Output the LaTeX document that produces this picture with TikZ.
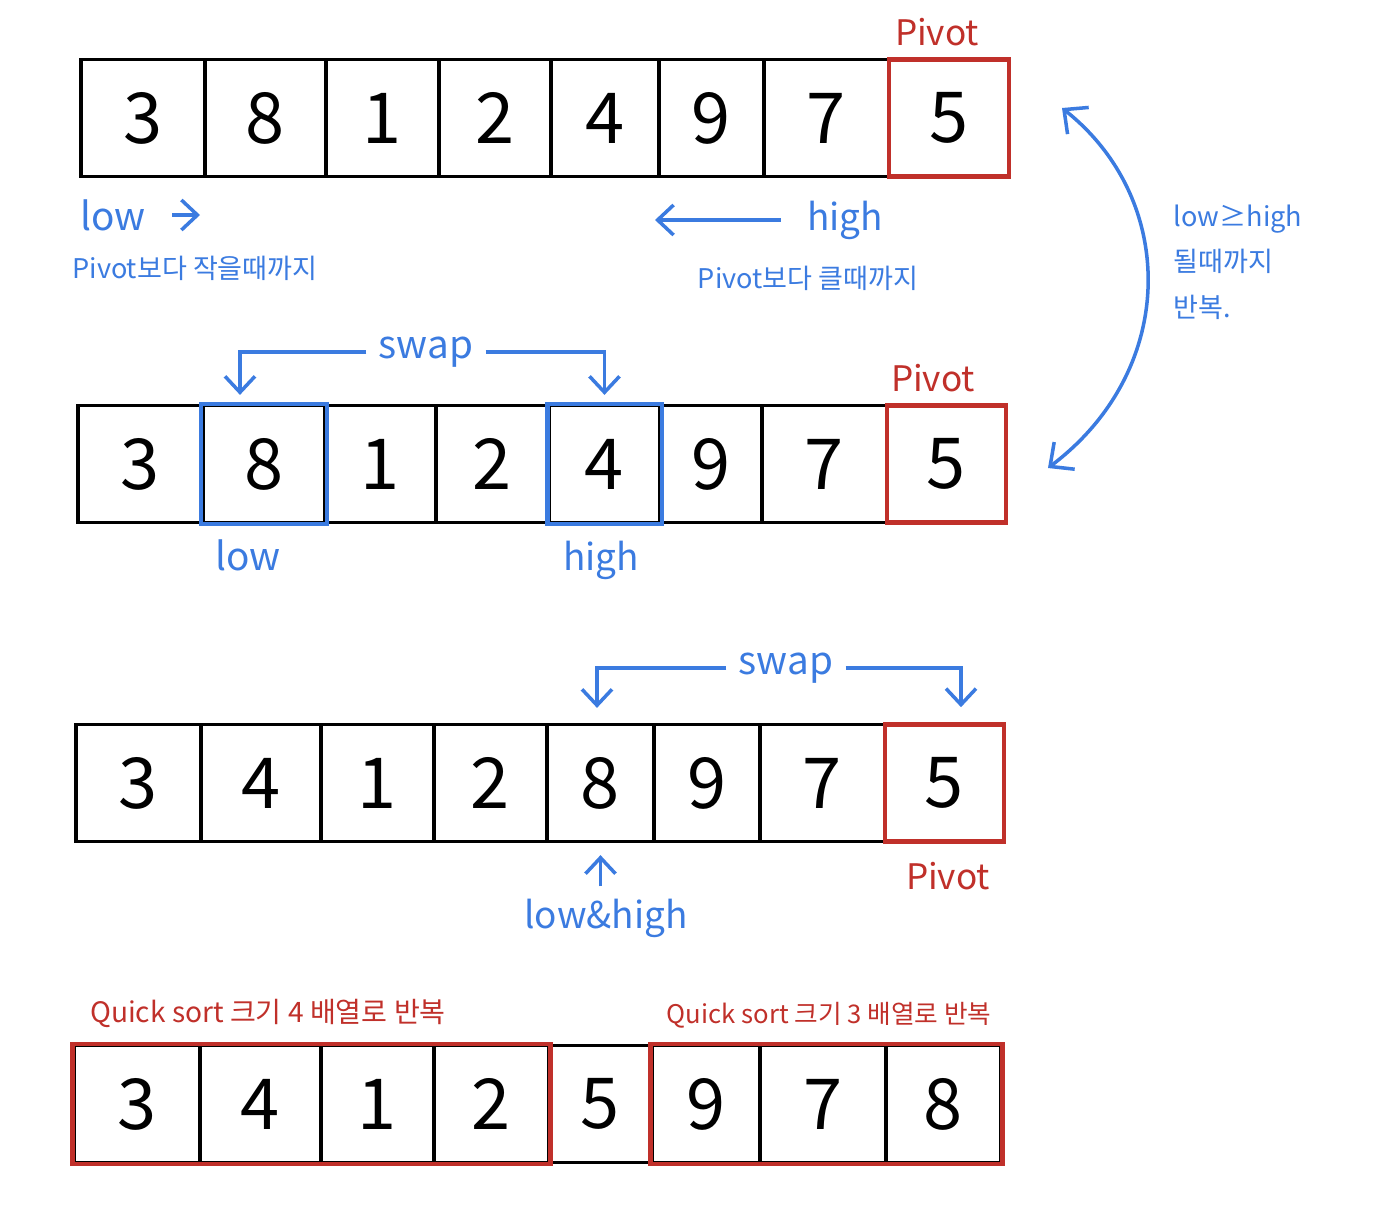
\documentclass[tikz,border=0pt]{standalone}
\usepackage{fontspec}
\setmainfont{Noto Sans CJK KR}
\usetikzlibrary{arrows.meta}
\definecolor{pivred}{HTML}{C0302A}
\definecolor{ptrblue}{HTML}{3B7BE0}

\begin{document}
\begin{tikzpicture}[x=0.01cm, y=-0.01cm,
        cell/.style={draw, line width=0.9pt, minimum height=1.17cm, inner sep=0pt, font=\fontsize{20}{22}\selectfont},
        pivcell/.style={cell, draw=pivred, line width=1.3pt},
        redlbl/.style={text=pivred, font=\fontsize{10}{12}\selectfont},
        bluelbl/.style={text=ptrblue, font=\fontsize{11}{13}\selectfont},
        note/.style={text=ptrblue, align=left, font=\fontsize{7.7}{13}\selectfont},
        qsnote/.style={text=pivred, font=\fontsize{8}{10}\selectfont},
        ptr/.style={ptrblue, line width=1pt, -{Straight Barb[length=1.6mm, width=3mm]}},
        both/.style={ptr, {Straight Barb[length=1.8mm, width=3.4mm]}-{Straight Barb[length=1.8mm, width=3.4mm]}}]
    \useasboundingbox (0,0) rectangle (1379,1209);

    % row 1: start
    \draw
        (143,  118) node[cell, minimum width=1.24cm](a1){3}
        (265.5,118) node[cell, minimum width=1.21cm](a2){8}
        (382.5,118) node[cell, minimum width=1.13cm](a3){1}
        (495,  118) node[cell, minimum width=1.12cm](a4){2}
        (605,  118) node[cell, minimum width=1.08cm](a5){4}
        (711.5,118) node[cell, minimum width=1.05cm](a6){9}
        (826.5,118) node[cell, minimum width=1.25cm](a7){7}
        (949,  118) node[pivcell, minimum width=1.20cm](a8){5}

        (937,  32) node[redlbl](pivA){Pivot}
        (113, 215) node[bluelbl](lowA){low}
        (195, 268) node[note](ltA){Pivot보다 작을때까지}
        (845, 220) node[bluelbl, font=\fontsize{10.5}{12}\selectfont](highA){high}
        (808, 278) node[note](gtA){Pivot보다 클때까지}
        (1238,262) node[note](rep){low≥high\\될때까지\\반복.}
    ;
    \coordinate (lowtipA) at (200,214);
    \coordinate (hightipA) at (655,216);
    \coordinate (loopT) at (1062,108);
    \coordinate (loopB) at (1048,468);

    % row 2: low and high found
    \draw
        (140.5,464) node[cell, minimum width=1.25cm](b1){3}
        (264,  464) node[cell, minimum width=1.22cm](b2){8}
        (380.5,464) node[cell, minimum width=1.11cm](b3){1}
        (492.5,464) node[cell, minimum width=1.13cm](b4){2}
        (604.5,464) node[cell, minimum width=1.11cm](b5){4}
        (711,  464) node[cell, minimum width=1.02cm](b6){9}
        (824.5,464) node[cell, minimum width=1.25cm](b7){7}
        (946.5,464) node[pivcell, minimum width=1.19cm](b8){5}

        (933, 378) node[redlbl](pivB){Pivot}
        (426, 352) node[bluelbl](swapB){swap}
        (248, 555) node[bluelbl](lowB){low}
        (601, 560) node[bluelbl, font=\fontsize{10.5}{12}\selectfont](highB){high}
    ;

    % row 3: swapped, low and high meet
    \draw
        (138.5,783) node[cell, minimum width=1.25cm](c1){3}
        (261,  783) node[cell, minimum width=1.20cm](c2){4}
        (377.5,783) node[cell, minimum width=1.13cm](c3){1}
        (490.5,783) node[cell, minimum width=1.13cm](c4){2}
        (600.5,783) node[cell, minimum width=1.07cm](c5){8}
        (707,  783) node[cell, minimum width=1.06cm](c6){9}
        (822.5,783) node[cell, minimum width=1.25cm](c7){7}
        (944.5,783) node[pivcell, minimum width=1.19cm](c8){5}

        (786, 668) node[bluelbl](swapC){swap}
        (948, 876) node[redlbl](pivC){Pivot}
        (606, 918) node[bluelbl, font=\fontsize{10.5}{12}\selectfont](lhC){low\&high}
    ;

    % row 4: split
    \draw
        (137,  1104) node[cell, minimum width=1.26cm](d1){3}
        (260.5,1104) node[cell, minimum width=1.21cm](d2){4}
        (377.5,1104) node[cell, minimum width=1.13cm](d3){1}
        (491.5,1104) node[cell, minimum width=1.15cm](d4){2}
        (600.5,1104) node[cell, minimum width=1.03cm](d5){5}
        (706,  1104) node[cell, minimum width=1.08cm](d6){9}
        (823,  1104) node[cell, minimum width=1.26cm](d7){7}
        (943.5,1104) node[cell, minimum width=1.15cm](d8){8}

        (268, 1013) node[qsnote](qs4){Quick sort 크기 4 배열로 반복}
        (829, 1015) node[qsnote, font=\fontsize{7.3}{9}\selectfont](qs3){Quick sort 크기 3 배열로 반복}
    ;

    \draw [ptrblue, line width=1.2pt] (b2.north west) rectangle (b2.south east);
    \draw [ptrblue, line width=1.2pt] (b5.north west) rectangle (b5.south east);
    \draw [pivred, line width=1.3pt] (d1.north west) rectangle (d4.south east);
    \draw [pivred, line width=1.3pt] (d6.north west) rectangle (d8.south east);

    \draw [ptr, shorten <=4pt] (lowA.east) -- (lowA.east -| lowtipA);
    \draw [ptr, shorten <=4pt] (highA.west) -- (highA.west -| hightipA);
    \draw [both] (loopT) .. controls (1178,200) and (1178,370) .. (loopB);
    \draw [ptr] (swapB.west) -| ([xshift=-0.24cm, yshift=0.09cm]b2.north);
    \draw [ptr] (swapB.east) -| ([yshift=0.09cm]b5.north);
    \draw [ptr] (swapC.west) -| ([xshift=-0.035cm, yshift=0.15cm]c5.north);
    \draw [ptr] (swapC.east) -| ([xshift=0.165cm, yshift=0.15cm]c8.north);
    \draw [ptr] (c5.south |- lhC.north) -- ([yshift=-0.12cm]c5.south);
\end{tikzpicture}
\end{document}
